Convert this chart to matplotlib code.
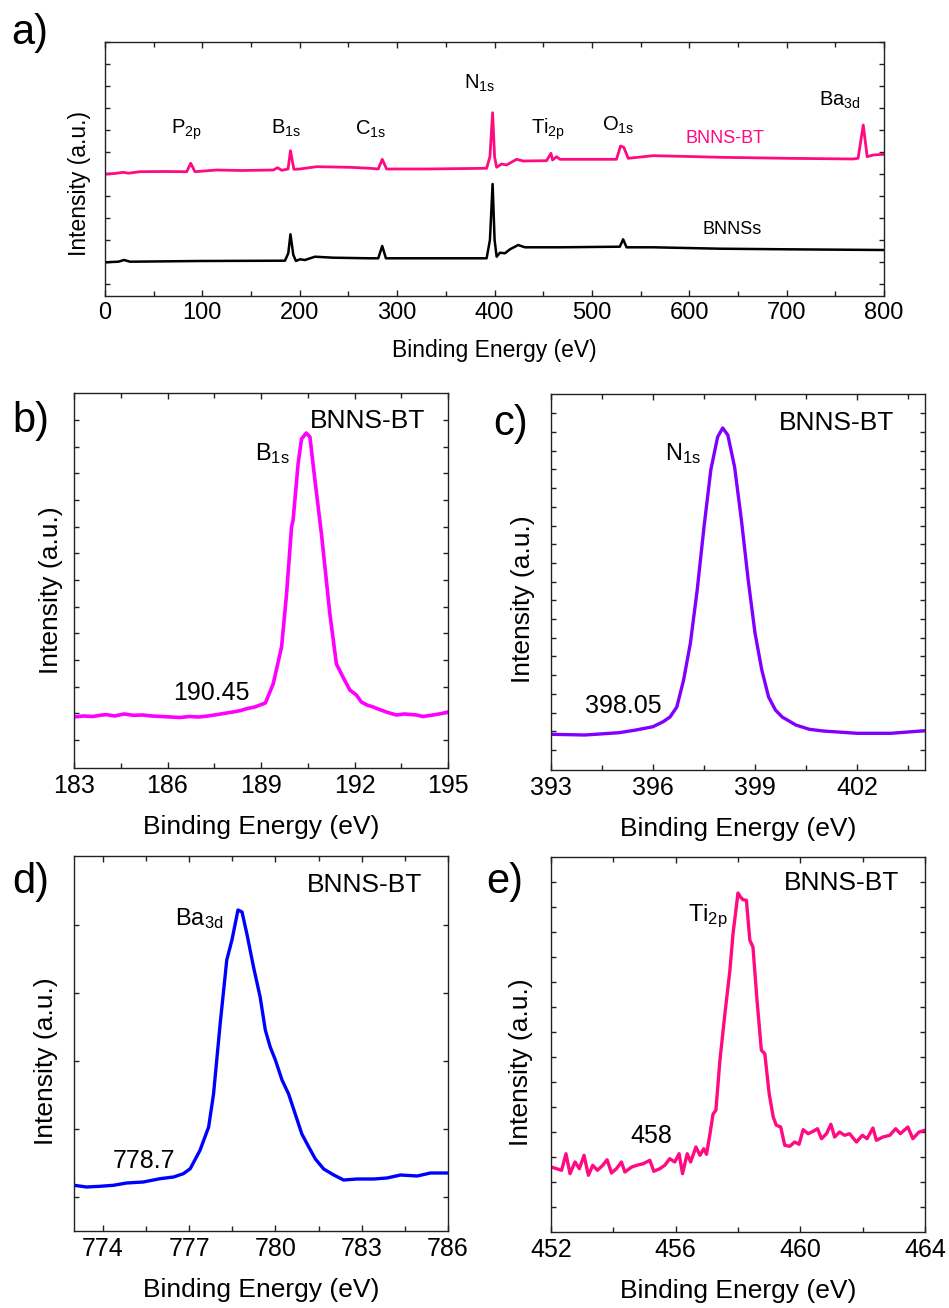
import numpy as np
import matplotlib
matplotlib.use("Agg")
import matplotlib.pyplot as plt
from matplotlib.ticker import MultipleLocator, FixedLocator, NullFormatter

plt.rcParams["font.family"] = ["Liberation Sans", "DejaVu Sans"]
plt.rcParams["mathtext.fontset"] = "custom"
plt.rcParams["mathtext.rm"] = "Liberation Sans"
plt.rcParams["mathtext.it"] = "Liberation Sans:italic"
plt.rcParams["mathtext.bf"] = "Liberation Sans:bold"

# ---------------- survey spectra (panel a) ----------------
survey_energy_bt = [0, 10, 18.8, 24, 36, 60, 83.9, 88, 92.4, 114.7, 140, 172.8, 177.3,
                    181.4, 188, 190.45, 194, 200, 217.3, 251.5, 272, 280.6, 284.7, 289.2,
                    330, 391.9, 395.3, 398.05, 400.1, 402.2, 407.3, 412.4, 422.7, 429.5,
                    453.4, 458, 459.6, 463.8, 467.2, 501.4, 525.3, 529.4, 532.8, 537.3,
                    563, 600, 631.4, 699.9, 768.3, 773.4, 778.7, 782.7, 788.9, 800]
survey_counts_bt = [122, 122.5, 123.7, 122.8, 124.3, 124.5, 124.3, 132.7, 124.3, 126, 125.5,
                    126, 128.3, 125.7, 127, 145.3, 126.7, 127, 129.3, 128.7, 127.7, 127,
                    136.7, 127, 127, 127.7, 139.3, 183.3, 139, 128.7, 132, 131, 136.7, 135,
                    135.3, 142.7, 136, 139.3, 136.7, 136.7, 136.7, 150, 148.7, 137.7,
                    140.3, 139.5, 138.7, 137.7, 137, 137.7, 171, 139.3, 141, 141.7]

survey_energy_bnns = [0, 13.7, 19.5, 25.7, 97.5, 184.8, 188.2, 190.45, 193.4, 196.1, 200.2,
                      205.4, 215.6, 234.4, 272.1, 280.6, 284.7, 288.5, 391.9, 395.3, 398.05,
                      400.1, 402.2, 405.6, 410.7, 415.9, 424.4, 431.2, 467.2, 528.7, 532.1,
                      535.6, 563, 631.4, 699.9, 800]
survey_counts_bnns = [33.7, 34.3, 36, 34.3, 35, 35.3, 42.7, 61.7, 41, 35, 36.7, 36, 39.3,
                      38.3, 37.7, 37.7, 50, 37.7, 37.7, 56, 112, 56, 39.3, 43.3, 42.7, 46.7,
                      51, 48.7, 48.7, 49.3, 56.7, 48.7, 48.7, 47.3, 46.7, 46]

# ---------------- high-resolution spectra ----------------
b1s_energy = [183.0, 183.3, 183.6, 183.9, 184.05, 184.3, 184.6, 184.9, 185.2, 185.5, 185.8,
              186.1, 186.4, 186.7, 187.0, 187.3, 187.57, 187.8, 188.1, 188.35, 188.54,
              188.8, 189.14, 189.39, 189.66, 189.82, 189.98, 190.03, 190.19, 190.3, 190.45,
              190.57, 190.73, 190.94, 191.21, 191.42, 191.63, 191.85, 192.06, 192.22, 192.4,
              192.6, 192.8, 193.02, 193.34, 193.6, 193.99, 194.2, 194.52, 194.8, 195.0]
b1s_counts = [51, 52, 51.5, 53, 53.3, 52, 54, 52.7, 53, 52, 51.5, 51, 50.5, 51.5, 51, 52,
              53.3, 54.5, 56, 57.5, 59.3, 61, 65, 84, 121, 174, 241, 248, 304, 329, 335,
              331, 288, 234, 154, 104, 91, 78, 73, 66, 63, 61, 58.5, 56, 53, 54, 53, 51.5,
              53, 54.5, 56]

n1s_energy = [393.0, 394.0, 395.0, 395.5, 396.0, 396.3, 396.5, 396.7, 396.9, 397.1, 397.3,
              397.5, 397.7, 397.9, 398.05, 398.2, 398.4, 398.6, 398.8, 399.0, 399.2, 399.4,
              399.6, 399.8, 400.2, 400.6, 401.0, 402.0, 403.0, 404.0]
n1s_counts = [35.7, 35, 37.3, 40, 43.3, 48.3, 53, 63, 90, 127, 180, 243, 300, 333, 342, 335,
              303, 250, 190, 137, 100, 73, 60, 53, 45, 40.7, 39, 36.7, 36.7, 39.3]

ba3d_energy = [773.0, 773.44, 773.9, 774.37, 774.83, 775.41, 775.99, 776.46, 776.8, 777.04,
               777.38, 777.68, 777.85, 778.08, 778.31, 778.49, 778.7, 778.84, 779.01,
               779.24, 779.47, 779.65, 779.82, 780.0, 780.23, 780.46, 780.69, 780.92,
               781.16, 781.39, 781.68, 782.03, 782.37, 782.84, 783.42, 783.88, 784.35,
               784.93, 785.39, 786.0]
ba3d_counts = [45.7, 44, 44.7, 45.7, 48, 49, 52.3, 54, 57.3, 62.3, 80.7, 104, 137, 207, 271,
               291, 321, 319, 297, 264, 234, 201, 184, 171, 151, 137, 117, 97, 84, 72, 62,
               56, 51, 52, 52, 53, 56, 55, 58, 58]

ti2p_energy = [452.0, 452.18, 452.34, 452.48, 452.61, 452.77, 452.91, 453.06, 453.2, 453.34,
               453.49, 453.66, 453.8, 453.94, 454.1, 454.26, 454.37, 454.59, 454.75, 454.96,
               455.17, 455.3, 455.49, 455.65, 455.81, 455.97, 456.11, 456.22, 456.37,
               456.48, 456.65, 456.78, 456.9, 456.99, 457.1, 457.2, 457.29, 457.42, 457.58,
               457.74, 457.84, 458.0, 458.08, 458.16, 458.27, 458.38, 458.48, 458.61,
               458.75, 458.86, 459.0, 459.13, 459.23, 459.37, 459.5, 459.66, 459.82, 459.96,
               460.09, 460.25, 460.41, 460.55, 460.68, 460.84, 460.98, 461.1, 461.26,
               461.42, 461.58, 461.8, 461.99, 462.14, 462.33, 462.44, 462.65, 462.87,
               463.06, 463.21, 463.45, 463.61, 463.81, 464.0]
ti2p_counts = [65, 63.3, 61.7, 78.3, 58.3, 70, 63.3, 76.7, 56.7, 66.7, 61.7, 66.7, 72.3, 59,
               63.3, 70, 60, 65, 66.7, 68.3, 71.7, 60.7, 63.3, 66.7, 73.3, 70, 78.3, 58.3,
               78.3, 70, 85, 76.7, 83.3, 77.7, 98, 118, 121.7, 171.7, 218.3, 261.7, 298.3,
               339, 335, 332.3, 331.7, 291.7, 285, 231.7, 181.7, 178.3, 138.3, 115, 106.7,
               105, 86.7, 85.7, 90, 87.7, 102.3, 98.3, 100.7, 103.3, 93.3, 98.3, 107.7, 95,
               100, 96.7, 98.3, 90, 96.7, 93.3, 104, 91.7, 95, 96.7, 103.3, 98.3, 105,
               93.3, 100, 101.7]

PINK = "#FF0A80"
W, H = 949, 1308
fig = plt.figure(figsize=(W / 100, H / 100), dpi=100)


def add_axes(l, r, t, b):
    return fig.add_axes([l / W, 1 - b / H, (r - l) / W, (b - t) / H])


def style(ax, box, xlim, ylim, xmaj, xmin, yticks, tick_fs, label_fs,
          xlab_off, ylab_gap, ylab_center):
    l, r, t, b = box
    wpx, hpx = r - l, b - t
    ax.set_xlim(*xlim)
    ax.set_ylim(*ylim)
    ax.xaxis.set_major_locator(MultipleLocator(xmaj))
    ax.xaxis.set_minor_locator(MultipleLocator(xmin))
    ax.yaxis.set_major_locator(FixedLocator(yticks))
    ax.yaxis.set_major_formatter(NullFormatter())
    ax.tick_params(which="both", direction="in", top=True, right=True,
                   width=1.0, color="#222222")
    ax.tick_params(which="major", length=4.5)
    ax.tick_params(which="minor", length=3.5)
    ax.tick_params(axis="y", which="major", length=3.5)
    ax.tick_params(axis="x", labelsize=tick_fs, pad=4)
    for sp in ax.spines.values():
        sp.set_linewidth(1.0)
        sp.set_color("#222222")
    ax.set_xlabel("Binding Energy (eV)", fontsize=label_fs)
    ax.xaxis.set_label_coords(0.5, -xlab_off / hpx)
    ax.set_ylabel("Intensity (a.u.)", fontsize=label_fs)
    ax.yaxis.set_label_coords(-ylab_gap / wpx, (b - ylab_center) / hpx)


# ---------------- panel a ----------------
box_a = (105, 884, 42, 296)
ax = add_axes(*box_a)
ax.plot(survey_energy_bt, survey_counts_bt, color=PINK, lw=2.0)
ax.plot(survey_energy_bnns, survey_counts_bnns, color="black", lw=1.8)
style(ax, box_a, (0, 800), (0, 254), 100, 50, np.arange(12, 255, 22), 17, 16.5,
      42.5, 14, 184)
peak_labels_a = [(67.4, 162.7, r"$\mathregular{P_{2p}}$"),
                 (170.1, 162.7, r"$\mathregular{B_{1s}}$"),
                 (256.7, 161.0, r"$\mathregular{C_{1s}}$"),
                 (368.6, 207.7, r"$\mathregular{N_{1s}}$"),
                 (437.0, 162.7, r"$\mathregular{Ti_{2p}}$"),
                 (510.0, 165.3, r"$\mathregular{O_{1s}}$"),
                 (733.0, 190.0, r"$\mathregular{Ba_{3d}}$")]
for x, y, s in peak_labels_a:
    ax.text(x, y, s, fontsize=14.5, ha="left", va="baseline")
ax.text(596.5, 153.3, "BNNS-BT", color=PINK, fontsize=13, ha="left", va="baseline")
ax.text(613.3, 61.7, "BNNSs", color="black", fontsize=13, ha="left", va="baseline")

# ---------------- detail panels ----------------
panels = [
    dict(box=(74, 448, 393, 768), xlim=(183, 195), xmaj=3, xmin=1.5,
         yticks=np.linspace(28, 348, 13), x=b1s_energy, y=b1s_counts, color="#FF00FF",
         lw=2.6, ylab_gap=11, ylab_center=590,
         name=(192.42 - 1.85, 340), peak=(188.81, 308, r"$\mathregular{B_{1s}}$"),
         value=(186.18, 68, "190.45")),
    dict(box=(551, 925, 394, 770), xlim=(393, 404), xmaj=3, xmin=1.5,
         yticks=np.linspace(20, 356.7, 19), x=n1s_energy, y=n1s_counts, color="#7F00FF",
         lw=2.4, ylab_gap=16, ylab_center=599,
         name=(399.7, 340), peak=(396.35, 310, r"$\mathregular{N_{1s}}$"),
         value=(394.0, 56.7, "398.05")),
    dict(box=(74, 448, 856, 1231), xlim=(773, 786), xmaj=3, xmin=1.5,
         yticks=np.linspace(34, 305.7, 5), x=ba3d_energy, y=ba3d_counts, color="#0000FF",
         lw=2.4, ylab_gap=16, ylab_center=1060.7,
         name=(781.09, 339.3), peak=(776.51, 306, r"$\mathregular{Ba_{3d}}$"),
         value=(774.35, 62.7, "778.7")),
    dict(box=(551, 925, 857, 1232), xlim=(452, 464), xmaj=4, xmin=2,
         yticks=np.linspace(25, 350, 14), x=ti2p_energy, y=ti2p_counts, color=PINK,
         lw=2.4, ylab_gap=18, ylab_center=1061.7,
         name=(459.48, 342), peak=(456.41, 311, r"$\mathregular{Ti_{2p}}$"),
         value=(454.54, 88.7, "458")),
]

for p in panels:
    box = p["box"]
    ax = add_axes(*box)
    ax.plot(p["x"], p["y"], color=p["color"], lw=p["lw"], solid_joinstyle="round")
    style(ax, box, p["xlim"], (0, box[3] - box[2]), p["xmaj"], p["xmin"], p["yticks"],
          18, 19, 47, p["ylab_gap"], p["ylab_center"])
    ax.text(p["name"][0], p["name"][1], "BNNS-BT", fontsize=19, ha="left", va="baseline")
    ax.text(p["peak"][0], p["peak"][1], p["peak"][2], fontsize=17, ha="left",
            va="baseline")
    ax.text(p["value"][0], p["value"][1], p["value"][2], fontsize=18, ha="left",
            va="baseline")

# panel letters
for x, y, s in [(11, 44, "a)"), (12, 432, "b)"), (493, 435, "c)"),
                (12, 893, "d)"), (486, 893, "e)")]:
    fig.text(x / W, 1 - y / H, s, fontsize=30, ha="left", va="baseline")

fig.savefig("out.png", dpi=100, facecolor="white")
